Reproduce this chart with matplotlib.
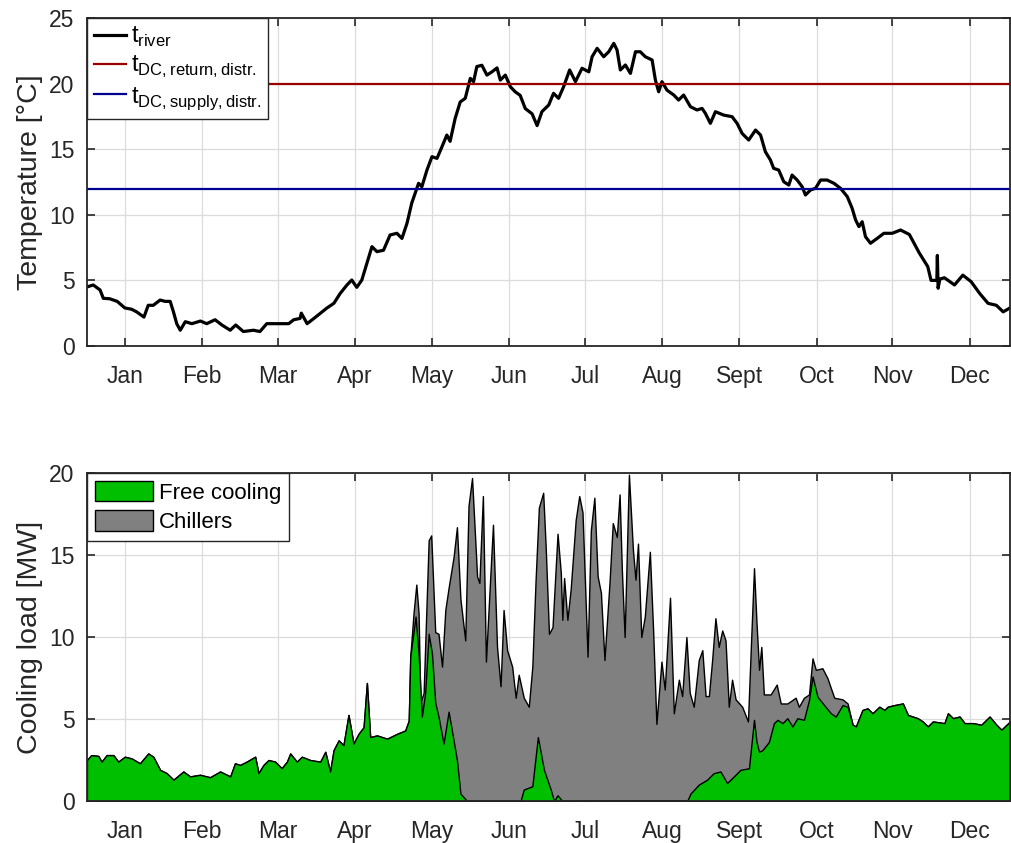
"""
River temperature and cooling load split (free cooling vs chillers)
"""

import numpy as np
import matplotlib
matplotlib.use('Agg')  # no GUI
import matplotlib.pyplot as plt

plt.rcParams['font.family'] = ['Liberation Sans', 'DejaVu Sans']
plt.rcParams['mathtext.fontset'] = 'custom'
plt.rcParams['mathtext.rm'] = 'Liberation Sans'

AX_COLOR = '#262626'

# === AXIS LABELS ===
month_labels = ['Jan', 'Feb', 'Mar', 'Apr', 'May', 'Jun',
                'Jul', 'Aug', 'Sept', 'Oct', 'Nov', 'Dec']
month_pos = [15.1, 45.6, 75.8, 106.3, 136.9, 167.5,
             197.6, 228.2, 258.7, 289.3, 319.4, 350.0]

# === RIVER TEMPERATURE (day of year, degC) ===
river_days = [0, 2.5, 5.2, 6.5, 9, 12, 15, 17.7, 19.7, 22.6,
              24.3, 26.3, 29, 31, 33, 34.3, 35.6, 37, 39, 41.6,
              45, 47.5, 50.8, 53.5, 56.8, 59, 62, 66, 68.6, 71.3,
              80, 82, 84.5, 85, 87.3, 90, 92.6, 95.2, 97.9, 100.4,
              103.1, 105, 107, 109, 111, 113, 115, 117.6, 120.2, 122.9,
              124.9, 126.9, 128.8, 131.5, 132.8, 134.8, 136.8, 138.8, 140.8, 142.7,
              144, 146, 148, 150, 152, 153.3, 154.6, 156.6, 158.6, 160.6,
              162.6, 163.9, 165.9, 167.9, 169.8, 171.8, 173.8, 176.5, 178.5, 180.4,
              183.1, 185, 187, 189, 191.4, 193.7, 196.3, 199, 200.3, 202.3,
              204.9, 206.9, 208.9, 210.2, 211.5, 213.5, 215.5, 217.5, 219.4, 221.4,
              224.1, 225.4, 226.7, 228, 230, 232.7, 234.6, 236.6, 239.3, 241.9,
              243.9, 245.2, 247.2, 249.2, 252.5, 255.8, 257.8, 259.8, 262.4, 265.1,
              267.1, 269, 271, 272.3, 274.3, 276.3, 278.3, 279.6, 281.6, 283.6,
              284.9, 286.9, 288.9, 290.9, 293.5, 296.2, 298.8, 301.5, 303.4, 304.8,
              306.1, 307.4, 308.7, 310.7, 313.4, 316, 319.3, 322.6, 326.1, 330,
              333.4, 334.7, 337.0, 337.2, 337.5, 338.2, 340, 344, 347.3, 350.6,
              354, 357.3, 360.6, 363.3, 366]
river_temp = [4.5, 4.65, 4.27, 3.63, 3.6, 3.4, 2.9, 2.8, 2.6, 2.2,
              3.1, 3.1, 3.5, 3.4, 3.4, 2.6, 1.7, 1.2, 1.85, 1.7,
              1.9, 1.7, 2.0, 1.6, 1.2, 1.6, 1.1, 1.2, 1.1, 1.7,
              1.7, 2.0, 2.1, 2.5, 1.7, 2.1, 2.5, 2.9, 3.25, 4.0,
              4.65, 5.03, 4.47, 5.03, 6.3, 7.57, 7.19, 7.3, 8.46, 8.59,
              8.2, 9.35, 10.9, 12.4, 12.14, 13.4, 14.43, 14.3, 15.2, 16.08,
              15.6, 17.35, 18.6, 18.88, 20.4, 20.15, 21.3, 21.4, 20.65, 20.9,
              21.2, 20.27, 20.65, 19.76, 19.38, 19.1, 18.1, 17.7, 16.8, 17.86,
              18.37, 19.26, 18.88, 19.76, 21.04, 20.15, 21.17, 20.9, 22.05, 22.69,
              22.05, 22.43, 23.07, 22.56, 21.04, 21.42, 20.78, 22.43, 22.43, 22.05,
              21.8, 20.27, 19.38, 20.15, 19.5, 19.13, 18.75, 19.13, 18.24, 17.99,
              18.11, 17.74, 16.97, 17.86, 17.6, 17.48, 16.97, 16.2, 15.7, 16.46,
              16.08, 14.81, 14.18, 13.54, 13.41, 12.52, 12.27, 13.03, 12.65, 12.14,
              11.51, 11.89, 12.02, 12.65, 12.65, 12.4, 12.02, 11.38, 10.5, 9.6,
              9.1, 9.47, 8.33, 7.83, 8.21, 8.59, 8.59, 8.84, 8.5, 7.1,
              6.05, 5.0, 5.0, 6.9, 4.4, 5.1, 5.2, 4.65, 5.4, 4.9,
              4.0, 3.25, 3.1, 2.6, 2.9]

t_return = 20.0
t_supply = 12.0

# === COOLING LOAD (MW) ===
# spring: all load covered by free cooling
spring_days = [0, 1.7, 4.5, 5.8, 7.8, 10.5, 12.4, 15, 17.7, 21, 24.3, 26.3, 29, 31.6,
               34.3, 38.2, 40.9, 44.8, 48.8, 52.8, 56.8, 58.7, 60.7, 63.3, 66.7, 68,
               70, 72, 74.6, 77.2, 79.3, 80.6, 83.2, 85.2, 88.5, 92.5, 94.5, 96.4,
               97.8, 99.8, 101.7, 103.7, 105.7, 107.7, 109.7, 111, 112.3, 115, 119,
               123, 126.2, 127.6]
spring_load = [2.5, 2.8, 2.75, 2.4, 2.8, 2.8, 2.4, 2.7, 2.6, 2.3, 2.9, 2.7, 1.9, 1.7,
               1.3, 1.8, 1.5, 1.6, 1.45, 1.8, 1.5, 2.3, 2.2, 2.4, 2.7, 1.7,
               2.2, 2.5, 2.4, 2.0, 2.4, 2.9, 2.4, 2.7, 2.5, 2.4, 3.0, 1.8,
               3.1, 3.7, 3.4, 5.25, 3.5, 4.1, 4.5, 7.2, 3.9, 4.0, 3.8,
               4.1, 4.3, 4.9]

# summer: total load (free cooling + chillers)
summer_days = [128.2, 129.5, 130.6, 131.5, 132.2, 133.5, 135.5, 136.5, 138.1, 139.4,
               140.8, 142.1, 143.4, 145.4, 146.7, 148.1, 150, 151.3, 152.7, 154.7,
               155.6, 157, 158.2, 160, 161, 162.6, 164, 165.2, 166.6, 168.6, 170,
               171.2, 173.2, 175.2, 176.6, 177.9, 179.2, 180.9, 181.9, 183.2, 184.6,
               186.6, 187.9, 188.5, 189.2, 190.5, 191.8, 193.8, 195.2, 196.5, 198.5,
               199.8, 201.2, 202.5, 203.8, 205.2, 207.2, 208.5, 210.1, 211.2, 212.1,
               213.2, 214.9, 216.5, 217.5, 218.5, 219.8, 221.2, 223.2, 224.5, 225.8,
               227.8, 229.1, 231.2, 232.7, 234.7, 236, 237.7, 239, 240.6, 242.6, 244,
               245.3, 246.6, 247.9, 249.2, 250.5, 251.9, 253.2, 254.5, 255.8, 257.2,
               259.8, 262.1, 263.1, 264.5, 265.5, 266.5, 267.4, 268.4, 271.1, 273.5,
               275.1, 277.7, 281, 282.3, 284.3, 286.3, 287.7, 289, 291.6, 293.6,
               296.3, 299.6, 301.6]
summer_total = [8.8, 11.45, 13.2, 11.45, 6.0, 6.6, 15.9, 16.2, 10.3, 10.2,
                8.2, 11.65, 13.0, 14.9, 16.7, 12.3, 9.8, 18.0, 19.7, 13.7,
                13.3, 18.6, 8.5, 13.9, 16.85, 9.4, 7.0, 11.65, 9.2, 8.2, 6.3,
                7.7, 6.3, 5.75, 8.2, 13.5, 17.9, 18.8, 15.5, 10.2, 10.6,
                16.3, 13.9, 11.05, 13.6, 11.05, 12.9, 17.15, 18.6, 17.6, 8.8,
                16.5, 18.5, 13.7, 12.7, 8.6, 13.3, 16.95, 16.1, 18.7, 14.1,
                10.0, 19.9, 15.3, 13.5, 15.7, 10.0, 11.25, 15.2, 10.4, 4.7,
                8.5, 6.8, 12.4, 5.35, 7.4, 6.4, 10.0, 6.6, 5.75, 8.6, 9.2,
                6.4, 6.4, 8.6, 11.15, 9.4, 10.4, 9.8, 5.75, 7.4, 6.2,
                5.75, 4.85, 8.8, 14.2, 10.85, 8.0, 9.4, 6.5, 6.5, 7.1,
                5.95, 5.95, 6.3, 5.75, 6.3, 6.5, 8.7, 8.0, 8.1, 7.5,
                6.3, 6.2, 5.95]

# summer: free cooling part
summer_free_days = [128.2, 130.3, 131.5, 132.8, 134.1, 135.5, 136.8, 138.1, 139.4, 141.4,
                    143.4, 144.7, 146.7, 148.1, 150.7, 171.9, 173.2, 176.6, 178.8,
                    181.2, 183.9, 185.2, 186.6, 188.5, 235.3, 238, 239.3, 242.6,
                    245.9, 248.5, 251.2, 253.8, 256.5, 259.1, 262.5, 263.1, 264.5,
                    265.5, 266.5, 267.8, 270.4, 272.4, 273.8, 275.8, 277.7, 279.7,
                    281.7, 284.3, 286.3, 287.7, 289.7, 292.3, 295, 296.9, 299.6, 301.6]
summer_free = [8.8, 11.25, 9.0, 5.15, 6.6, 10.2, 9.0, 6.0, 5.15, 3.5,
               5.45, 4.3, 2.5, 0.45, 0.0, 0.0, 0.7, 0.9, 3.9,
               1.9, 0.7, 0.0, 0.35, 0.0, 0.05, 0.0, 0.45, 1.0,
               1.3, 1.7, 1.8, 1.1, 1.5, 1.9, 2.0, 2.9, 4.95,
               3.6, 3.0, 3.1, 3.6, 4.75, 4.95, 4.75, 5.05, 4.55,
               5.05, 4.95, 6.15, 7.6, 6.35, 5.85, 5.35, 5.15, 5.85, 5.75]

# autumn: all load covered by free cooling again
autumn_days = [303.6, 304.9, 307.5, 309.5, 311.5, 314.2, 316.2, 317.5, 320.2, 323.5,
               325.5, 329.4, 331.4, 333.4, 335.4, 340, 341.4, 343.4, 346, 348,
               351.4, 354.6, 357.9, 360.6, 362.6, 366]
autumn_load = [4.65, 4.55, 5.55, 5.65, 5.35, 5.75, 5.55, 5.75, 5.85, 5.95,
               5.25, 5.05, 4.85, 4.55, 4.85, 4.75, 5.35, 5.05, 5.15, 4.75,
               4.75, 4.65, 5.15, 4.65, 4.35, 4.85]

total_days = spring_days + summer_days + autumn_days
total_load = spring_load + summer_total + autumn_load
free_days = spring_days + summer_free_days + autumn_days
free_load = spring_load + summer_free + autumn_load


def style_axes(ax, ymax):
    ax.set_xlim(0, 366)
    ax.set_ylim(0, ymax)
    ax.set_xticks(month_pos)
    ax.set_xticklabels(month_labels)
    ax.set_yticks(np.arange(0, ymax + 1, 5))
    ax.tick_params(direction='in', length=6, width=1.2, colors=AX_COLOR,
                   labelsize=16.5, top=True, right=True)
    ax.tick_params(axis='x', pad=14)
    ax.tick_params(axis='y', pad=9)
    ax.grid(True, color='#dcdcdc', linewidth=0.9)
    ax.set_axisbelow(True)
    for s in ax.spines.values():
        s.set_color(AX_COLOR)
        s.set_linewidth(1.3)


fig = plt.figure(figsize=(10.11, 8.43), dpi=100)

# === TOP: temperatures ===
ax1 = fig.add_axes([0.086, 0.5896, 0.913, 0.389])
ax1.plot(river_days, river_temp, color='black', lw=2.3,
         label=r'$\mathrm{t}_{\mathrm{river}}$')
ax1.axhline(t_return, color='#990000', lw=1.6,
            label=r'$\mathrm{t}_{\mathrm{DC,return,distr.}}$')
ax1.axhline(t_supply, color='#000090', lw=1.6,
            label=r'$\mathrm{t}_{\mathrm{DC,supply,distr.}}$')
style_axes(ax1, 25)
ax1.set_ylabel('Temperature [°C]', fontsize=20.5, color=AX_COLOR, labelpad=4)
leg1 = ax1.legend(loc='upper left', fontsize=17, handlelength=1.35,
                  handletextpad=0.2, labelspacing=0.2, borderpad=0.3,
                  borderaxespad=0, fancybox=False, framealpha=1)
leg1.get_frame().set_edgecolor(AX_COLOR)
leg1.get_frame().set_linewidth(1.0)

# === BOTTOM: cooling load ===
ax2 = fig.add_axes([0.086, 0.0498, 0.913, 0.389])
ax2.fill_between(total_days, 0, total_load, color='#808080',
                 edgecolor='black', linewidth=1.0, label='Chillers')
ax2.fill_between(free_days, 0, free_load, color='#00bf00',
                 edgecolor='black', linewidth=1.0, label='Free cooling')
style_axes(ax2, 20)
ax2.set_ylabel('Cooling load [MW]', fontsize=20.5, color=AX_COLOR, labelpad=4)
handles, labels = ax2.get_legend_handles_labels()
leg2 = ax2.legend(handles[::-1], labels[::-1], loc='upper left', fontsize=16,
                  handlelength=2.6, handleheight=1.05, handletextpad=0.3,
                  labelspacing=0.3, borderpad=0.35, borderaxespad=0,
                  fancybox=False, framealpha=1)
leg2.get_frame().set_edgecolor(AX_COLOR)
leg2.get_frame().set_linewidth(1.0)

fig.savefig('out.png', dpi=100)
plt.close(fig)
